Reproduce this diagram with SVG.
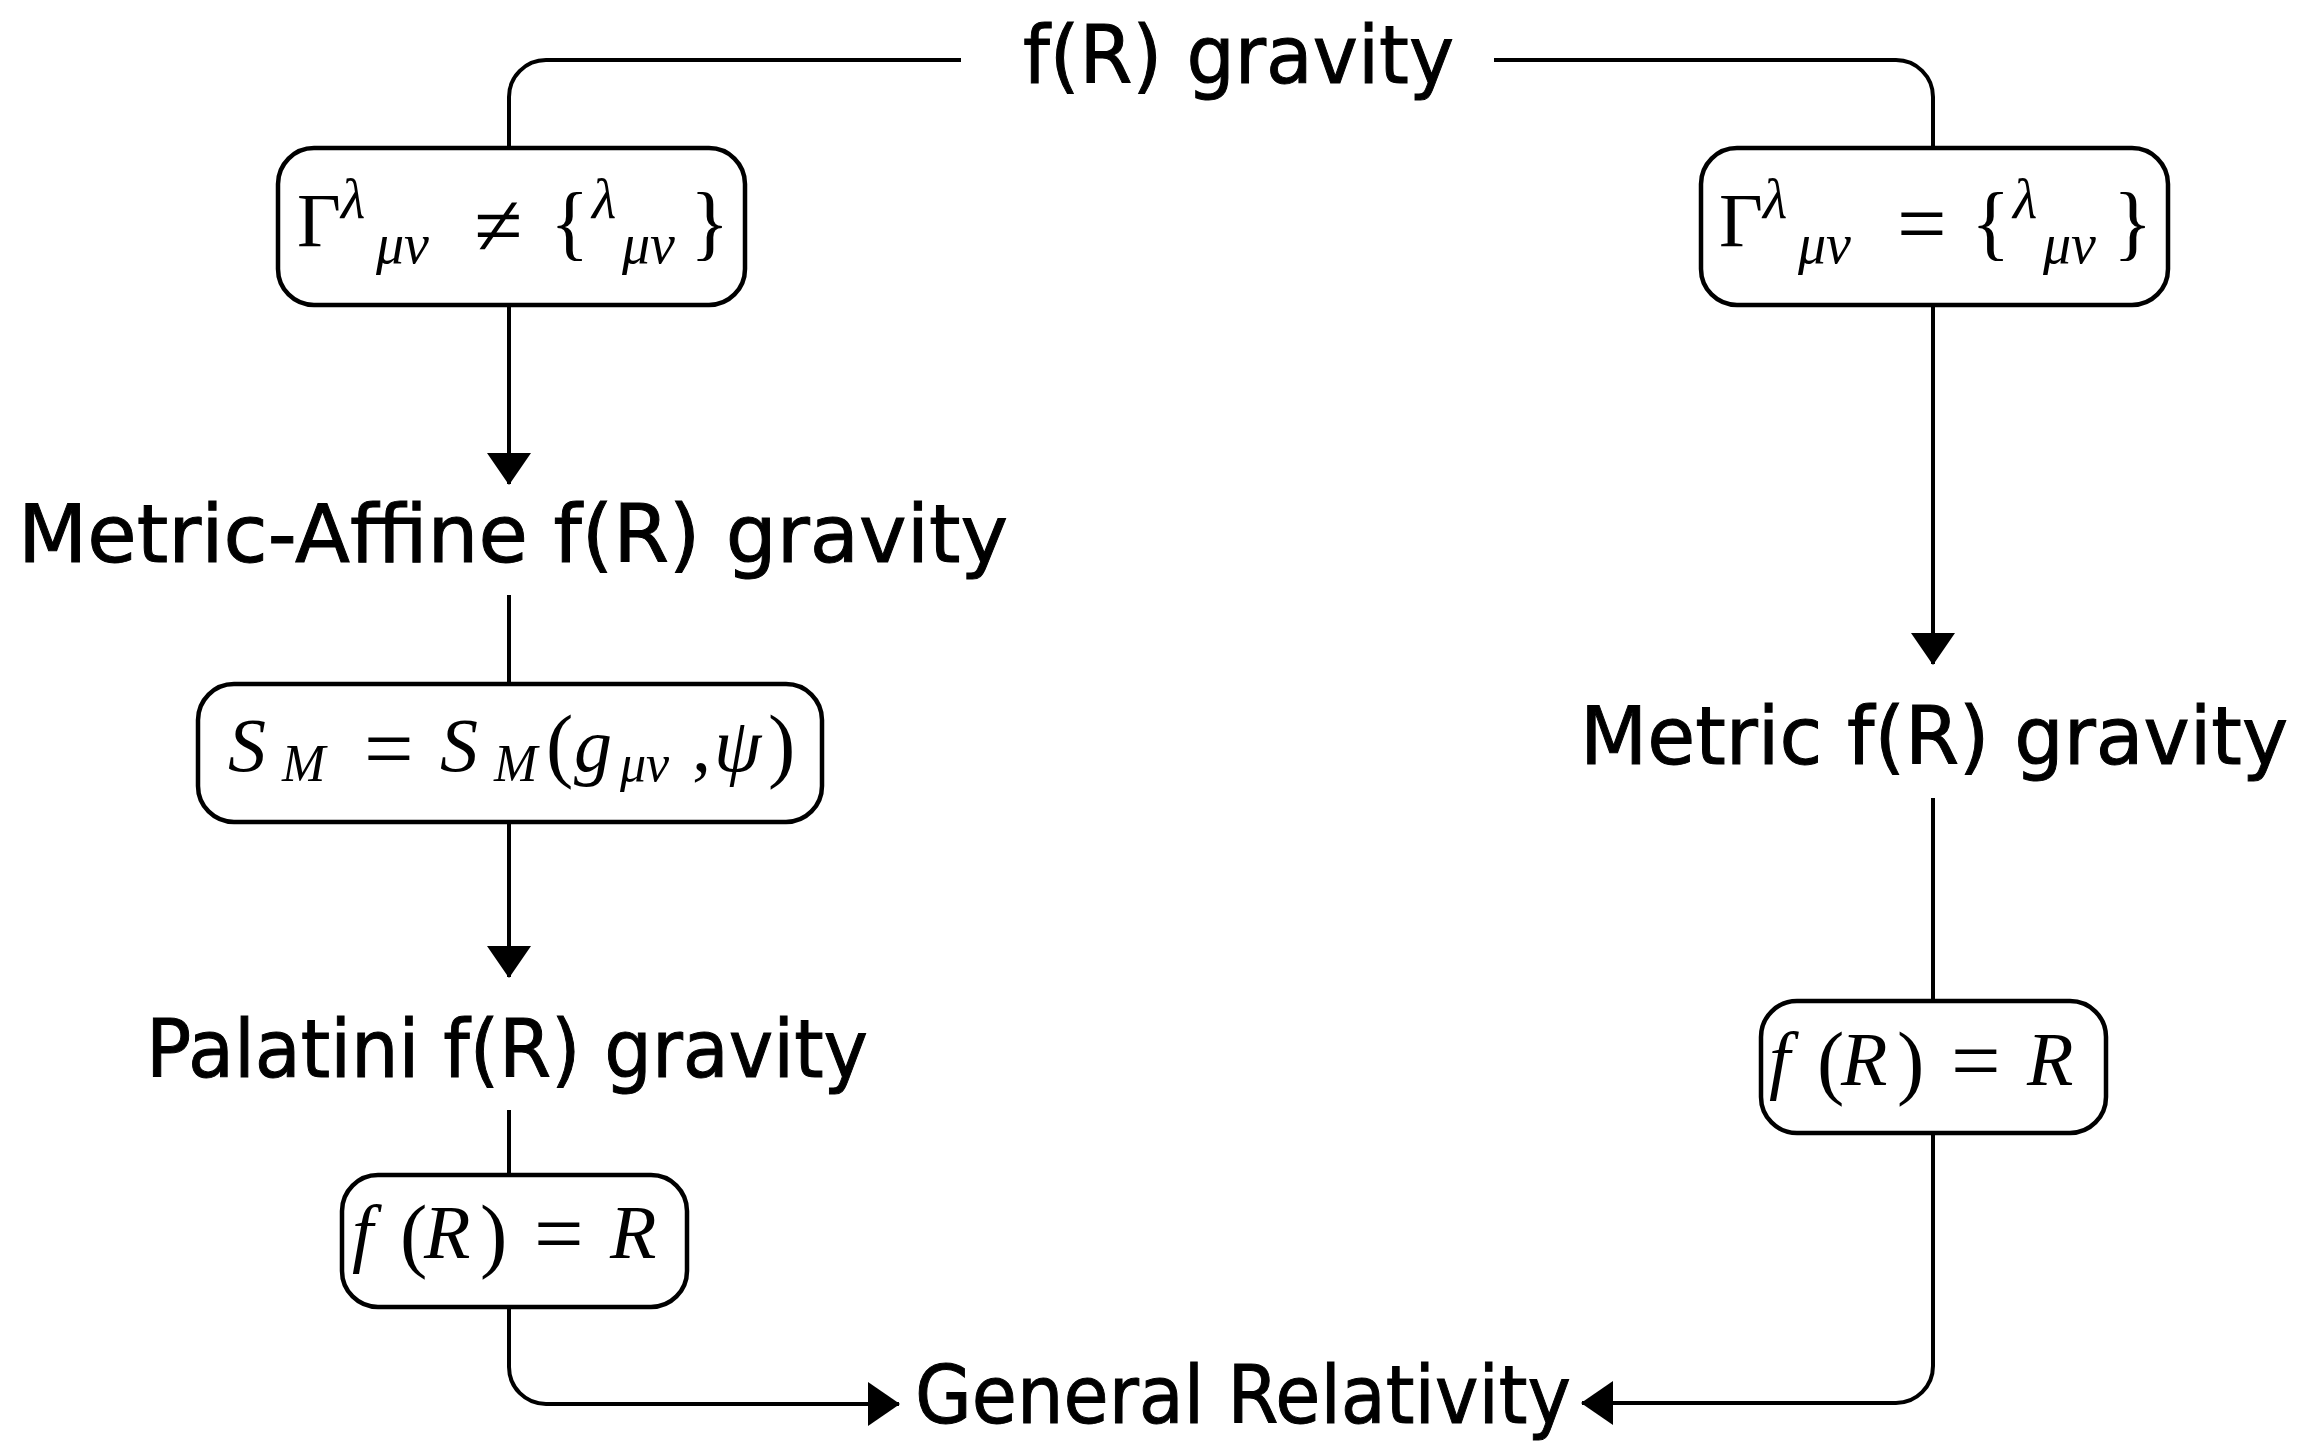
<svg xmlns="http://www.w3.org/2000/svg" width="2307" height="1441" viewBox="0 0 2307 1441">
<style>
.bg{fill:#ffffff}
.box{fill:#ffffff;stroke:#000000;stroke-width:4.5}
.conn{fill:none;stroke:#000000;stroke-width:4}
.lbl{font-family:"DejaVu Sans","Liberation Sans",sans-serif;font-size:80px;fill:#000000;stroke:#000000;stroke-width:1}
.m{font-family:"Liberation Serif","DejaVu Serif",serif;font-size:76px;fill:#000000}
.i{font-style:italic}
.s{font-size:56px}
.sm{font-size:52px}
.br{font-size:82px}
.eq{font-size:88px}
.pa{font-size:82px}
</style>
<defs>
<marker id="ah" viewBox="0 0 32 44" refX="31" refY="22" markerWidth="32" markerHeight="44" markerUnits="userSpaceOnUse" orient="auto">
<path d="M0,0 L32,22 L0,44 Z" fill="#000000"/>
</marker>
</defs>
<rect class="bg" x="0" y="0" width="2307" height="1441"/>

<g id="connectors">
<path class="conn" d="M509,147 L509,97 A37,37 0 0 1 546,60 L961,60"/>
<path class="conn" d="M1494,60 L1896,60 A37,37 0 0 1 1933,97 L1933,147"/>
<path class="conn" d="M509,305 L509,484" marker-end="url(#ah)"/>
<path class="conn" d="M509,595 L509,683"/>
<path class="conn" d="M509,822 L509,977" marker-end="url(#ah)"/>
<path class="conn" d="M509,1110 L509,1175"/>
<path class="conn" d="M509,1307 L509,1367 A37,37 0 0 0 546,1404 L899,1404" marker-end="url(#ah)"/>
<path class="conn" d="M1933,305 L1933,664" marker-end="url(#ah)"/>
<path class="conn" d="M1933,798 L1933,1001"/>
<path class="conn" d="M1933,1133 L1933,1366 A37,37 0 0 1 1896,1403 L1582,1403" marker-end="url(#ah)"/>
</g>

<g id="n-fr-gravity">
<text class="lbl" x="1023" y="83" textLength="431" lengthAdjust="spacingAndGlyphs">f(R) gravity</text>
</g>

<g id="n-gamma-neq">
<rect class="box" x="278" y="148" width="467" height="157" rx="36" ry="36"/>
<text class="m">
<tspan x="297" y="246">Γ</tspan>
<tspan class="i s" x="341" y="218">λ</tspan>
<tspan class="i s" x="376" y="263">μν</tspan>
<tspan class="eq" x="474" y="255">≠</tspan>
<tspan class="br" x="550" y="250">{</tspan>
<tspan class="i s" x="592" y="218">λ</tspan>
<tspan class="i s" x="622" y="263">μν</tspan>
<tspan class="br" x="690" y="250">}</tspan>
</text>
</g>

<g id="n-gamma-eq">
<rect class="box" x="1701" y="148" width="467" height="157" rx="36" ry="36"/>
<text class="m">
<tspan x="1719" y="246">Γ</tspan>
<tspan class="i s" x="1763" y="218">λ</tspan>
<tspan class="i s" x="1798" y="263">μν</tspan>
<tspan class="eq" x="1897" y="253">=</tspan>
<tspan class="br" x="1971" y="250">{</tspan>
<tspan class="i s" x="2013" y="218">λ</tspan>
<tspan class="i s" x="2043" y="263">μν</tspan>
<tspan class="br" x="2113" y="250">}</tspan>
</text>
</g>

<g id="n-metric-affine">
<text class="lbl" x="18" y="562" textLength="990" lengthAdjust="spacingAndGlyphs">Metric-Affine f(R) gravity</text>
</g>

<g id="n-sm">
<rect class="box" x="198" y="684" width="624" height="138" rx="36" ry="36"/>
<text class="m">
<tspan class="i" x="228" y="771">S</tspan>
<tspan class="i sm" x="282" y="781">M</tspan>
<tspan class="eq" x="364" y="778">=</tspan>
<tspan class="i" x="440" y="771">S</tspan>
<tspan class="i sm" x="494" y="781">M</tspan>
<tspan class="pa" x="546" y="772">(</tspan>
<tspan class="i" x="574" y="771">g</tspan>
<tspan class="i sm" x="620" y="781">μν</tspan>
<tspan x="692" y="771">,</tspan>
<tspan class="i" x="714" y="771">ψ</tspan>
<tspan class="pa" x="768" y="772">)</tspan>
</text>
</g>

<g id="n-palatini">
<text class="lbl" x="146" y="1077" textLength="722" lengthAdjust="spacingAndGlyphs">Palatini f(R) gravity</text>
</g>

<g id="n-fr-left">
<rect class="box" x="342" y="1175" width="345" height="132" rx="36" ry="36"/>
<text class="m">
<tspan class="i" x="352" y="1258">f</tspan>
<tspan class="pa" x="400" y="1262">(</tspan>
<tspan class="i" x="424" y="1258">R</tspan>
<tspan class="pa" x="480" y="1262">)</tspan>
<tspan class="eq" x="534" y="1263">=</tspan>
<tspan class="i" x="610" y="1258">R</tspan>
</text>
</g>

<g id="n-metric">
<text class="lbl" x="1580" y="764" textLength="708" lengthAdjust="spacingAndGlyphs">Metric f(R) gravity</text>
</g>

<g id="n-fr-right">
<rect class="box" x="1761" y="1001" width="345" height="132" rx="36" ry="36"/>
<text class="m">
<tspan class="i" x="1769" y="1085">f</tspan>
<tspan class="pa" x="1817" y="1089">(</tspan>
<tspan class="i" x="1841" y="1085">R</tspan>
<tspan class="pa" x="1897" y="1089">)</tspan>
<tspan class="eq" x="1951" y="1090">=</tspan>
<tspan class="i" x="2027" y="1085">R</tspan>
</text>
</g>

<g id="n-gr">
<text class="lbl" x="915" y="1423" textLength="656" lengthAdjust="spacingAndGlyphs">General Relativity</text>
</g>
</svg>
